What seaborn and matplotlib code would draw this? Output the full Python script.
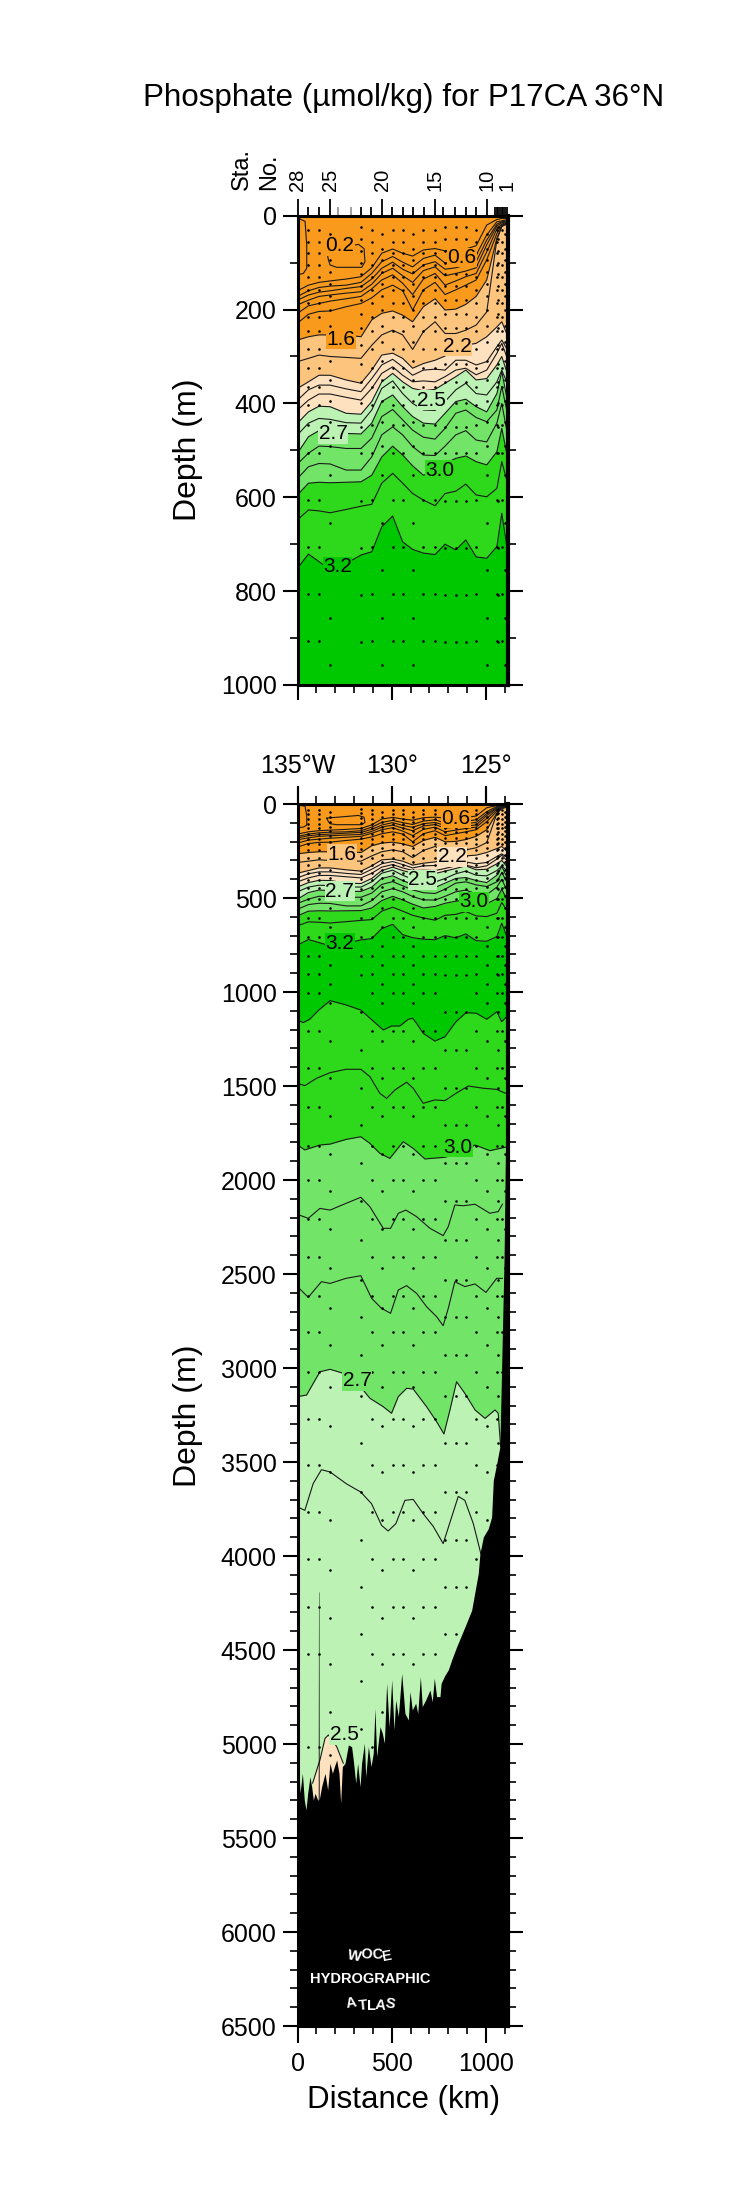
import matplotlib
matplotlib.use('Agg')
import matplotlib.pyplot as plt
import seaborn as sns

# station section positions (km) used by most of the upper isolines
knots = [0, 58, 114, 173, 258, 337, 394, 447, 505, 558, 611, 668, 730, 783, 840, 893, 948, 1004, 1058, 1084, 1110]

iso_04 = [160, 148, 142, 139, 135, 130, 111, 80, 71, 80, 86, 73, 70, 75, 70, 71, 64, 20, 8, 6, 6]
iso_06 = [172, 160, 153, 150, 148, 142, 123, 98, 87, 99, 109, 91, 84, 101, 98, 92, 84, 41, 13, 11, 9]
iso_08 = [180, 169, 163, 160, 155, 151, 135, 112, 99, 114, 124, 105, 98, 114, 111, 105, 98, 52, 18, 13, 11]
iso_10 = [190, 180, 172, 169, 165, 162, 146, 123, 112, 128, 142, 117, 109, 128, 123, 118, 111, 62, 22, 15, 13]
iso_12 = [208, 192, 187, 182, 177, 172, 156, 137, 126, 144, 168, 135, 123, 148, 139, 130, 123, 77, 28, 18, 14]
iso_14 = [229, 210, 204, 203, 194, 187, 175, 158, 148, 160, 201, 158, 142, 168, 158, 148, 137, 94, 38, 20, 16]
iso_16 = [265, 258, 254, 254, 254, 258, 222, 208, 203, 212, 226, 194, 177, 201, 199, 189, 172, 137, 48, 23, 18]
iso_20 = [311, 304, 297, 300, 302, 304, 276, 254, 244, 254, 285, 247, 226, 251, 251, 244, 233, 205, 51, 23, 16]
iso_22 = [368, 354, 340, 340, 350, 357, 329, 297, 293, 304, 325, 315, 308, 299, 283, 276, 272, 258, 237, 226, 251]
iso_23 = [393, 371, 361, 361, 369, 375, 347, 318, 306, 322, 340, 329, 327, 329, 308, 308, 318, 311, 279, 265, 283]
iso_24 = [414, 393, 380, 380, 387, 393, 368, 336, 322, 340, 354, 352, 354, 343, 329, 325, 339, 329, 293, 272, 300]
iso_25 = [442, 418, 406, 407, 421, 423, 396, 354, 336, 354, 368, 373, 370, 357, 343, 329, 350, 347, 318, 300, 332]
iso_26 = [467, 442, 432, 434, 441, 442, 414, 368, 352, 379, 400, 414, 415, 396, 371, 357, 379, 382, 354, 329, 354]
iso_27 = [506, 471, 458, 460, 464, 465, 442, 396, 382, 407, 428, 442, 444, 421, 396, 391, 407, 418, 379, 332, 386]
iso_28 = [529, 506, 491, 492, 496, 496, 474, 428, 413, 435, 457, 472, 476, 453, 421, 414, 430, 439, 414, 364, 414]
iso_29 = [560, 535, 528, 529, 542, 542, 514, 467, 450, 467, 492, 510, 511, 491, 467, 458, 478, 482, 442, 400, 457]
iso_30 = [595, 570, 568, 569, 568, 567, 553, 514, 491, 510, 533, 553, 545, 528, 517, 512, 524, 531, 503, 453, 506]
iso_31 = [648, 627, 629, 633, 626, 619, 615, 570, 549, 570, 592, 606, 618, 592, 587, 572, 595, 599, 581, 524, 563]
iso_32 = [751, 721, 737, 755, 741, 723, 716, 663, 640, 695, 711, 719, 722, 700, 712, 691, 727, 730, 705, 634, 702]

# small 0.2 pockets near the surface
pocket_km = [155, 164, 173, 208, 341, 358, 353, 323, 155]
pocket_m = [75, 94, 105, 110, 110, 98, 70, 61, 75]
edge_km = [13, 40, 49, 49, 31, 10]
edge_m = [7, 12, 62, 112, 123, 125]

# deep isolines, each with its own distances
deep32_km = [0, 30, 65, 113, 173, 258, 336, 395, 455, 499, 543, 588, 611, 632, 667, 729, 782, 841, 894, 949, 1004, 1058, 1083, 1110]
deep32_m = [1149, 1163, 1145, 1096, 1046, 1069, 1096, 1149, 1202, 1181, 1181, 1145, 1140, 1167, 1220, 1261, 1238, 1158, 1110, 1113, 1145, 1105, 1158, 1131]
deep31_km = [0, 39, 101, 173, 258, 336, 384, 437, 473, 517, 579, 614, 667, 729, 782, 841, 906, 986, 1057, 1083, 1106]
deep31_m = [1486, 1498, 1459, 1429, 1411, 1411, 1450, 1539, 1566, 1521, 1480, 1512, 1592, 1574, 1578, 1539, 1500, 1512, 1518, 1530, 1539]
deep30_km = [0, 39, 119, 173, 258, 336, 384, 437, 490, 526, 561, 614, 676, 782, 853, 942, 1021, 1101, 1117]
deep30_m = [1814, 1840, 1814, 1809, 1784, 1770, 1805, 1858, 1885, 1840, 1796, 1832, 1888, 1879, 1858, 1814, 1844, 1826, 1826]
deep29_km = [0, 57, 119, 173, 258, 336, 384, 455, 494, 535, 575, 632, 703, 773, 800, 835, 880, 942, 1021, 1065, 1088]
deep29_m = [2183, 2204, 2151, 2160, 2124, 2092, 2142, 2257, 2257, 2177, 2160, 2195, 2257, 2296, 2248, 2133, 2137, 2129, 2177, 2168, 2128]
deep28_km = [0, 57, 127, 173, 258, 336, 393, 446, 494, 535, 579, 632, 685, 738, 773, 800, 835, 888, 942, 1000, 1057, 1088]
deep28_m = [2567, 2624, 2541, 2550, 2523, 2509, 2629, 2683, 2709, 2585, 2562, 2603, 2674, 2727, 2775, 2683, 2541, 2567, 2553, 2598, 2523, 2523]
deep27_km = [0, 48, 119, 173, 242, 313, 384, 455, 499, 535, 579, 614, 685, 738, 777, 809, 844, 888, 942, 995, 1048, 1065, 1078]
deep27_m = [3152, 3144, 3020, 3007, 3028, 3073, 3161, 3206, 3241, 3152, 3108, 3112, 3206, 3285, 3351, 3223, 3073, 3135, 3223, 3268, 3223, 3241, 3418]
deep26_km = [0, 39, 83, 127, 173, 258, 336, 393, 446, 481, 522, 570, 614, 667, 720, 773, 818, 853, 888, 933, 973]
deep26_m = [3739, 3757, 3615, 3541, 3553, 3615, 3660, 3722, 3837, 3867, 3828, 3704, 3699, 3775, 3842, 3934, 3793, 3683, 3704, 3828, 3988]
deep25_km = [80, 119, 146, 164, 208, 243]
deep25_m = [5209, 5085, 4970, 4952, 5014, 5103]

# sea floor
bathy_km = [0, 8, 13, 26, 36, 45, 54, 66, 75, 84, 93, 107, 110, 111.5, 113.5, 115, 128, 146, 160, 172, 185, 196, 208, 220, 229, 238,
            252, 270, 287, 296, 309, 319, 332, 340, 355, 362, 376, 390, 402, 411, 420, 438, 450, 461, 473, 486, 500, 512, 521,
            535, 553, 570, 588, 597, 609, 627, 638, 652, 662, 680, 703, 715, 726, 738, 756, 762, 783, 800, 818,
            844, 888, 924, 959, 968, 986, 1012, 1030, 1039, 1057, 1074, 1088, 1096, 1103, 1110, 1119]
bathy_m = [5120, 5138, 5262, 5156, 5298, 5351, 5262, 5174, 5227, 5298, 5262, 5298, 5298, 4191, 4191, 5298, 5227, 5156, 5244, 5103, 5156, 5120, 5085, 5156, 5315, 5120,
           5103, 5005, 5014, 5085, 5209, 5103, 5227, 5103, 4996, 5174, 5014, 5120, 5049, 4810, 5067, 4908, 4943, 4996, 4677, 4908, 4659, 4925, 4766,
           4854, 4624, 4837, 4872, 4721, 4819, 4783, 4837, 4642, 4801, 4766, 4713, 4775, 4650, 4748, 4748, 4677, 4633, 4606, 4553,
           4484, 4378, 4289, 4094, 3988, 3899, 3855, 3793, 3598, 3509, 3418, 2780, 2425, 1893, 1450, 0]

# bottle samples, three depth patterns
stations_a = [58, 114, 394, 505, 558, 668, 730, 948, 1058, 1084]
stations_b = [173, 447, 611, 1004, 1102]
stations_d = [337, 783, 840, 893, 1066]
depth_a = [30, 55, 80, 105, 130, 158, 185, 215, 245, 285, 325, 365, 403, 445, 506, 606, 706, 806, 906, 1006, 1208, 1406, 1610, 1820,
           2000, 2205, 2412, 2616, 2811, 3020, 3270, 3518, 3766, 4014, 4271, 4520, 5016]
depth_b = [40, 70, 95, 120, 145, 172, 200, 235, 270, 310, 350, 395, 440, 490, 553, 655, 756, 857, 957, 1060, 1260, 1460, 1660, 1860,
           2060, 2260, 2470, 2680, 2880, 3100, 3310, 3553, 3810, 4073, 4328, 4576, 4830, 5060]
depth_d = [25, 50, 75, 100, 125, 150, 180, 210, 240, 275, 315, 355, 400, 450, 505, 608, 709, 808, 908, 1105, 1310, 1510, 1710, 1910,
           2110, 2320, 2530, 2730, 2930, 3150, 3400, 3660, 3913, 4165, 4413, 4665, 4918]

# ticks and labels
station_ticks = [0, 57, 116, 174, 217, 284, 337, 388, 450, 503, 562, 615, 672, 730, 774, 836, 893, 948, 1004, 1050, 1058, 1066, 1075, 1084, 1093, 1102, 1111, 1119]
station_major = {0: '28', 174: '25', 450: '20', 730: '15', 1004: '10', 1111: '1'}
station_gray = [217, 284]
lon_ticks = [0, 500, 1000]
lon_labels = ['135°W', '130°', '125°']

top_labels = [('0.2', 226, 64, 'orange'), ('0.6', 872, 89, 'orange'), ('1.6', 229, 263, 'orange'), ('2.2', 850, 278, 'tan'),
              ('2.5', 712, 393, 'pale'), ('2.7', 190, 465, 'pale'), ('3.0', 756, 542, 'green'), ('3.2', 212, 748, 'dark')]
low_labels = [('0.6', 841, 76, 'orange'), ('1.6', 237, 268, 'tan'), ('2.2', 821, 280, 'peach'), ('2.5', 664, 404, 'pale'),
              ('2.7', 225, 463, 'pale'), ('3.0', 936, 520, 'green'), ('3.2', 225, 741, 'dark'),
              ('3.0', 853, 1826, 'green'), ('2.7', 317, 3067, 'mid'), ('2.5', 248, 4952, 'pale')]

colors = {'orange': '#f99a1c', 'tan': '#fdc47e', 'peach': '#fee2c0', 'pale': '#bcf2b4',
          'mid': '#72e568', 'green': '#2ed81b', 'dark': '#00c800'}

woce_letters = list('WOCE')
woce_km = [304, 366, 423, 476]
woce_m = [6129, 6119, 6119, 6129]
woce_rot = [10, 4, -4, -10]
atlas_letters = list('ATLAS')
atlas_km = [287, 349, 393, 441, 490]
atlas_m = [6381, 6392, 6395, 6392, 6381]
atlas_rot = [-10, -5, 0, 5, 10]

sns.set_style('ticks')
plt.rcParams['font.family'] = ['Liberation Sans', 'DejaVu Sans']
for key in ['text.color', 'axes.labelcolor', 'xtick.color', 'ytick.color', 'axes.edgecolor']:
    plt.rcParams[key] = 'black'

W, H = 750, 2194
fig = plt.figure(figsize=(W / 100, H / 100), dpi=100)
ax_top = fig.add_axes([297.5 / W, 1 - 685 / H, 210.5 / W, 469.3 / H])
ax_low = fig.add_axes([297.5 / W, 1 - 2026 / H, 210.5 / W, 1222 / H])

XMAX = 1117
shallow = [iso_04, iso_06, iso_08, iso_10, iso_12, iso_14, iso_16, iso_20, iso_22, iso_23,
           iso_24, iso_25, iso_26, iso_27, iso_28, iso_29, iso_30, iso_31, iso_32]
deep = [(deep32_km, deep32_m), (deep31_km, deep31_m), (deep30_km, deep30_m), (deep29_km, deep29_m),
        (deep28_km, deep28_m), (deep27_km, deep27_m), (deep26_km, deep26_m), (deep25_km, deep25_m)]


def draw_section(ax, ymax, labels):
    # paint the colour bands from the surface down, each one covers what is below it
    ax.fill_between([0, XMAX], 0, 6500, color=colors['orange'], lw=0, zorder=1)
    for name, line in [('tan', iso_16), ('peach', iso_22), ('pale', iso_25), ('mid', iso_27),
                       ('green', iso_30), ('dark', iso_32)]:
        ax.fill_between(knots, line, 6500, color=colors[name], lw=0, zorder=1)
    for name, km, m in [('green', deep32_km, deep32_m), ('mid', deep30_km, deep30_m), ('pale', deep27_km, deep27_m)]:
        ax.fill_between(km, m, 6500, color=colors[name], lw=0, zorder=1)
    ax.fill_between(deep25_km, deep25_m, 5450, color=colors['peach'], lw=0, zorder=1)

    line_kw = dict(color='#1a1a1a', linewidth=0.8, estimator=None, sort=False, legend=False, zorder=2, ax=ax)
    for line in shallow:
        sns.lineplot(x=knots, y=line, **line_kw)
    for km, m in deep:
        sns.lineplot(x=km, y=m, **line_kw)
    sns.lineplot(x=pocket_km, y=pocket_m, **line_kw)
    sns.lineplot(x=edge_km, y=edge_m, **line_kw)

    for cols, depths in [(stations_a, depth_a), (stations_b, depth_b), (stations_d, depth_d)]:
        for col in cols:
            sns.scatterplot(x=[col] * len(depths), y=depths, color='black', s=3.5, linewidth=0,
                            legend=False, zorder=3, ax=ax)

    ax.fill_between(bathy_km, bathy_m, 6500, color='black', lw=0, zorder=4)

    for text, km, m, band in labels:
        ax.text(km, m, text, fontsize=15, ha='center', va='center', color='black', zorder=5,
                bbox=dict(fc=colors[band], ec='none', pad=0.3))

    ax.set_xlim(0, XMAX)
    ax.set_ylim(ymax, 0)
    ax.set_xlabel('')
    ax.set_ylabel('')
    for side, lw in [('left', 2.2), ('right', 3.0), ('top', 2.2), ('bottom', 2.2)]:
        ax.spines[side].set_visible(True)
        ax.spines[side].set_linewidth(lw)
        ax.spines[side].set_zorder(6)
    ax.tick_params(which='major', length=11, width=1.5, labelsize=18, pad=4, right=True)
    ax.tick_params(which='minor', length=5.5, width=1.2, right=True)


draw_section(ax_top, 1000, top_labels)
draw_section(ax_low, 6500, low_labels)

ax_top.set_yticks(range(0, 1001, 200))
ax_top.set_yticks(range(0, 1001, 100), minor=True)
ax_top.set_xticks(lon_ticks)
ax_top.set_xticks(range(0, 1101, 100), minor=True)
ax_top.set_xticklabels([])

ax_low.set_yticks(range(0, 6501, 500))
ax_low.set_yticks(range(0, 6501, 100), minor=True)
ax_low.set_xticks(lon_ticks)
ax_low.set_xticks(range(0, 1101, 100), minor=True)
ax_low.tick_params(axis='x', which='major', pad=7, top=True, length=12)
ax_low.tick_params(axis='x', which='minor', top=True)
ax_low.tick_params(axis='y', which='both', pad=4)

# longitude labels sit on the upper axis
lon_axis = ax_low.secondary_xaxis('top')
lon_axis.set_xticks(lon_ticks)
lon_axis.set_xticklabels(lon_labels, fontsize=18)
lon_axis.tick_params(length=13, width=1.5, pad=6)
lon_axis.spines['top'].set_visible(False)

# station numbers on the upper axis of the first panel
sta_axis = ax_top.secondary_xaxis('top')
sta_axis.set_xticks(station_ticks)
sta_axis.set_xticklabels([station_major.get(s, '') for s in station_ticks], rotation=90, fontsize=14.5)
sta_axis.tick_params(length=6.5, width=1.3, pad=11)
sta_axis.spines['top'].set_visible(False)
for tick, s in zip(sta_axis.xaxis.get_major_ticks(), station_ticks):
    if s in station_major and s != 1111:
        tick.tick1line.set_markersize(12)
        tick.tick2line.set_markersize(12)
    if s in station_gray:
        tick.tick1line.set_markeredgecolor('#999999')
        tick.tick2line.set_markeredgecolor('#999999')

ax_low.text(385, 6250, 'HYDROGRAPHIC', color='white', fontweight='bold', fontsize=10.5, ha='center', va='center', zorder=7)
for letter, km, m, rot in zip(woce_letters, woce_km, woce_m, woce_rot):
    ax_low.text(km, m, letter, color='white', fontweight='bold', fontsize=10.5, ha='center', va='center', rotation=-rot, zorder=7)
for letter, km, m, rot in zip(atlas_letters, atlas_km, atlas_m, atlas_rot):
    ax_low.text(km, m, letter, color='white', fontweight='bold', fontsize=10.5, ha='center', va='center', rotation=-rot, zorder=7)

fig.text(404 / W, 1 - 98 / H, 'Phosphate (µmol/kg) for P17CA 36°N', fontsize=22.6, ha='center', va='center')
fig.text(242 / W, 1 - 190 / H, 'Sta.', fontsize=17, rotation=90, ha='center', va='bottom')
fig.text(269 / W, 1 - 190 / H, 'No.', fontsize=17, rotation=90, ha='center', va='bottom')
fig.text(188 / W, 1 - 450 / H, 'Depth (m)', fontsize=23, rotation=90, ha='center', va='center')
fig.text(188 / W, 1 - 1416 / H, 'Depth (m)', fontsize=23, rotation=90, ha='center', va='center')
fig.text(404 / W, 1 - 2100 / H, 'Distance (km)', fontsize=22.5, ha='center', va='center')

fig.savefig('out.png', dpi=100)
